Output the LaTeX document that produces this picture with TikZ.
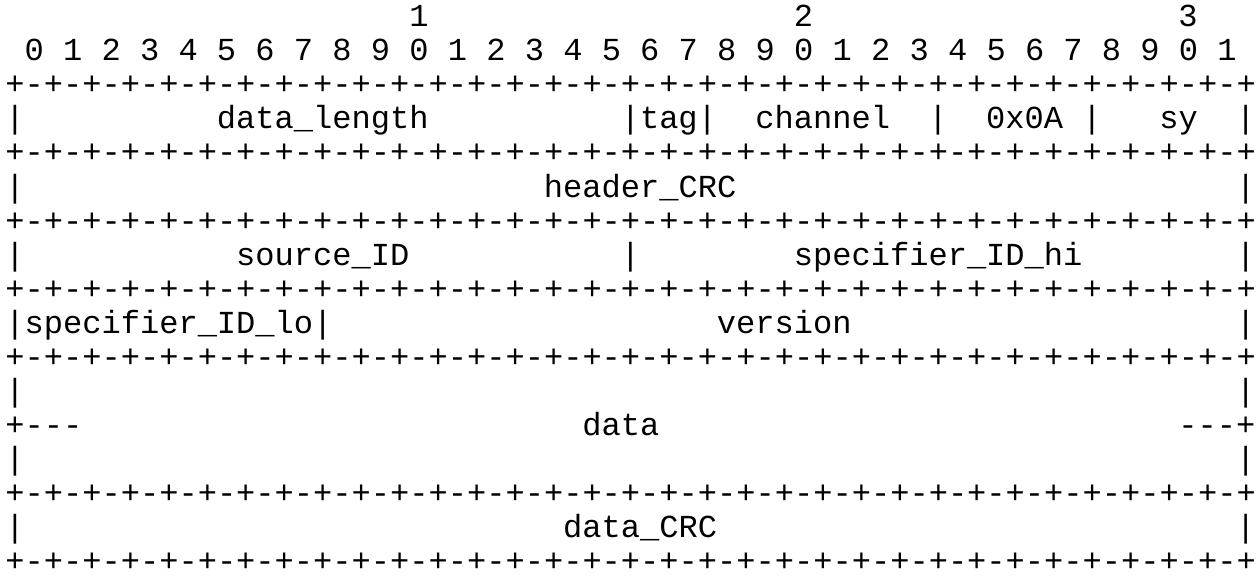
\documentclass[tikz,border=0pt]{standalone}
\usepackage{fontspec}
\setmonofont{Liberation Mono}
\usetikzlibrary{positioning}

\begin{document}
\begin{tikzpicture}[x=9.615pt, y=-17pt]
			\tikzstyle{cell} = [anchor=base west, inner sep=0pt, outer sep=0pt, font=\ttfamily\fontsize{16.03pt}{17pt}\selectfont]
			\useasboundingbox (-0.2808,-0.7941) rectangle (65.2392,16.1176);

			% bit numbers
			\node[cell] (ten1) at (21,0) {1};
			\node[cell] (ten2) at (41,0) {2};
			\node[cell] (ten3) at (61,0) {3};
			\node[cell] (bits) at (1,1) {0 1 2 3 4 5 6 7 8 9 0 1 2 3 4 5 6 7 8 9 0 1 2 3 4 5 6 7 8 9 0 1};

			% separator lines
			\foreach \r in {2,4,6,8,10,14,16}
				\node[cell] (border\r) at (0,\r) {+-+-+-+-+-+-+-+-+-+-+-+-+-+-+-+-+-+-+-+-+-+-+-+-+-+-+-+-+-+-+-+-+};

			% first word
			\foreach \c in {0,32,36,48,56,64}
				\node[cell] (bar3-\c) at (\c,3) {|};
			\node[cell] (datalength) at (11,3) {data\_length};
			\node[cell] (tag) at (33,3) {tag};
			\node[cell] (channel) at (39,3) {channel};
			\node[cell] (magic) at (51,3) {0x0A};
			\node[cell] (sy) at (60,3) {sy};

			% second word
			\foreach \c in {0,64}
				\node[cell] (bar5-\c) at (\c,5) {|};
			\node[cell] (headercrc) at (28,5) {header\_CRC};

			% third word
			\foreach \c in {0,32,64}
				\node[cell] (bar7-\c) at (\c,7) {|};
			\node[cell] (sourceid) at (12,7) {source\_ID};
			\node[cell] (specifierhi) at (41,7) {specifier\_ID\_hi};

			% fourth word
			\foreach \c in {0,16,64}
				\node[cell] (bar9-\c) at (\c,9) {|};
			\node[cell] (specifierlo) at (1,9) {specifier\_ID\_lo};
			\node[cell] (version) at (37,9) {version};

			% payload
			\foreach \r in {11,13}{
				\node[cell] (barl\r) at (0,\r) {|};
				\node[cell] (barr\r) at (64,\r) {|};
			}
			\node[cell] (dashl) at (0,12) {+---};
			\node[cell] (data) at (30,12) {data};
			\node[cell] (dashr) at (61,12) {---+};

			% trailer
			\foreach \c in {0,64}
				\node[cell] (bar15-\c) at (\c,15) {|};
			\node[cell] (datacrc) at (29,15) {data\_CRC};
\end{tikzpicture}
\end{document}
